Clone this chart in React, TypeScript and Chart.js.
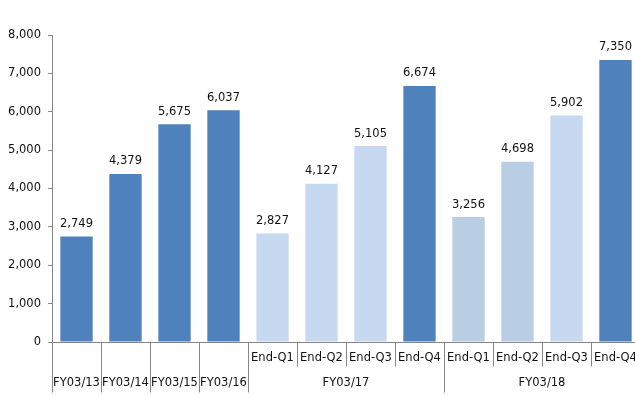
import React, { useEffect, useRef } from "react";
import { Chart, registerables } from "chart.js";

Chart.register(...registerables);

// Row 1 (quarter) labels and row 2 (fiscal-year) labels of the category axis
const quarterLabels = ["", "", "", "", "End-Q1", "End-Q2", "End-Q3", "End-Q4", "End-Q1", "End-Q2", "End-Q3", "End-Q4"];
const yearLabels = ["FY03/13", "FY03/14", "FY03/15", "FY03/16", "FY03/17", "FY03/17", "FY03/17", "FY03/17", "FY03/18", "FY03/18", "FY03/18", "FY03/18"];
const values = [2749, 4379, 5675, 6037, 2827, 4127, 5105, 6674, 3256, 4698, 5902, 7350];
const barColors = ["#4F81BD", "#4F81BD", "#4F81BD", "#4F81BD", "#C6D9F1", "#C6D9F1", "#C6D9F1", "#4F81BD", "#B9CDE5", "#B9CDE5", "#C6D9F1", "#4F81BD"];
const yTicks = { min: 0, max: 8000, step: 1000 };

const FONT = "DejaVu Sans";
const fmt = (v: number) => v.toLocaleString("en-US");

const xAxisPlugin = {
  id: "multiLevelX",
  afterDraw(chart: any) {
    const ctx = chart.ctx;
    const xs = chart.scales.x;
    const area = chart.chartArea;
    const n = values.length;
    const half = (xs.getPixelForValue(1) - xs.getPixelForValue(0)) / 2;
    const y0 = Math.round(area.bottom) + 0.5;
    ctx.save();
    ctx.strokeStyle = "#868686";
    ctx.lineWidth = 1;
    ctx.beginPath();
    ctx.moveTo(area.left - 4, y0);
    ctx.lineTo(area.right, y0);
    for (let i = 0; i <= n; i++) {
      const x = Math.round(i < n ? xs.getPixelForValue(i) - half : xs.getPixelForValue(n - 1) + half) + 0.5;
      const inner = i > 0 && i < n && yearLabels[i - 1] === yearLabels[i];
      ctx.moveTo(x, y0);
      ctx.lineTo(x, y0 + (inner ? 24 : 50));
    }
    ctx.stroke();

    ctx.fillStyle = "#111";
    ctx.textAlign = "center";
    ctx.textBaseline = "middle";
    ctx.font = `11.5px "${FONT}"`;
    for (let i = 0; i < n; i++) {
      if (quarterLabels[i]) ctx.fillText(quarterLabels[i], xs.getPixelForValue(i), y0 + 16);
    }
    let start = 0;
    for (let i = 1; i <= n; i++) {
      if (i === n || yearLabels[i] !== yearLabels[start]) {
        const cx = (xs.getPixelForValue(start) + xs.getPixelForValue(i - 1)) / 2;
        ctx.fillText(yearLabels[start], cx, y0 + 41);
        start = i;
      }
    }
    ctx.restore();
  },
};

const dataLabelPlugin = {
  id: "valueLabels",
  afterDatasetsDraw(chart: any) {
    const ctx = chart.ctx;
    const meta = chart.getDatasetMeta(0);
    ctx.save();
    ctx.fillStyle = "#111";
    ctx.textAlign = "center";
    ctx.textBaseline = "middle";
    ctx.font = `11.5px "${FONT}"`;
    meta.data.forEach((bar: any, i: number) => {
      ctx.fillText(fmt(values[i]), bar.x, bar.y - 12.5);
    });
    ctx.restore();
  },
};

export default function App() {
  const ref = useRef<HTMLCanvasElement>(null);
  useEffect(() => {
    if (!ref.current) return;
    const chart = new Chart(ref.current, {
      type: "bar",
      data: {
        labels: yearLabels.map((y, i) => (quarterLabels[i] ? `${y} ${quarterLabels[i]}` : y)),
        datasets: [
          {
            data: values,
            backgroundColor: barColors,
            borderWidth: 0,
            barPercentage: 0.66,
            categoryPercentage: 1,
          },
        ],
      },
      options: {
        responsive: false,
        animation: false,
        devicePixelRatio: 1,
        layout: { padding: { top: 35, right: 10, bottom: 54, left: 0 } },
        plugins: { legend: { display: false }, tooltip: { enabled: false } },
        scales: {
          x: { display: false },
          y: {
            min: yTicks.min,
            max: yTicks.max,
            afterFit: (s: any) => {
              s.width = 52;
            },
            ticks: {
              stepSize: yTicks.step,
              padding: 7,
              color: "#111",
              font: { family: FONT, size: 11.5 },
              callback: (v: any) => fmt(Number(v)),
            },
            grid: { drawOnChartArea: false, drawTicks: true, tickLength: 4, color: "#868686" },
            border: { display: true, color: "#868686" },
          },
        },
      },
      plugins: [xAxisPlugin, dataLabelPlugin],
    });
    return () => chart.destroy();
  }, []);
  return (
    <div style={{ position: "fixed", left: 0, top: 0, width: 635, height: 396, overflow: "hidden", background: "#fff" }}>
      <canvas ref={ref} width={650} height={396} style={{ display: "block" }} />
    </div>
  );
}
